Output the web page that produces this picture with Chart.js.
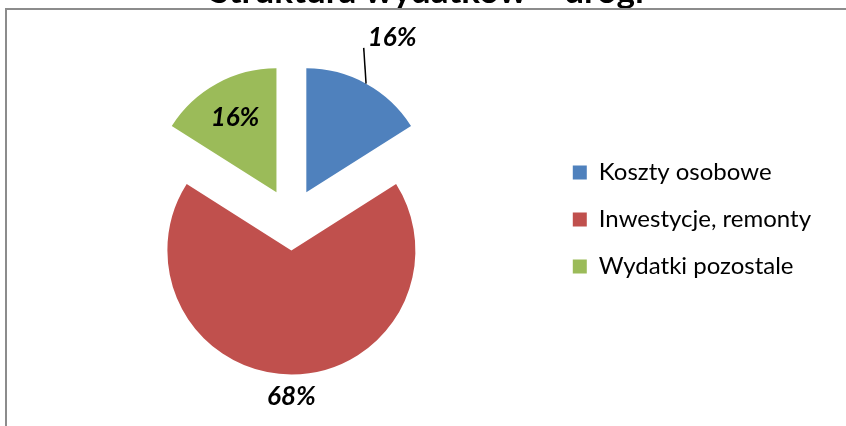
<!DOCTYPE html>
<html>
<head>
<meta charset="utf-8">
<script src="https://cdn.jsdelivr.net/npm/chart.js@4.4.1/dist/chart.umd.min.js"></script>
<style>
    body { margin: 0; background: #fff; overflow: hidden; }
    #wrap { position: relative; width: 846px; height: 426px; overflow: hidden; }
    #pieChart { position: absolute; left: 0; top: -29px; }
    #frame {
        position: absolute; left: 5px; top: 8px; right: -10px; bottom: -10px;
        border-left: 2px solid #8c8c8c; border-top: 2px solid #8c8c8c;
        pointer-events: none;
    }
</style>
</head>
<body>
<div id="wrap">
    <canvas id="pieChart" width="846" height="455"></canvas>
    <div id="frame"></div>
</div>
<script>
const chartTitle = 'Struktura wydatków – drogi';
const categories = ['Koszty osobowe', 'Inwestycje, remonty', 'Wydatki pozostale'];
const shares = [16, 68, 16];
const sliceColors = ['#4F81BD', '#C0504D', '#9BBB59'];

// pull every slice out of the centre by the same distance (Excel style explode)
const explodePlugin = {
    id: 'explode',
    afterDatasetsUpdate(chart, args, opts) {
        const meta = chart.getDatasetMeta(0);
        meta.data.forEach(arc => {
            const mid = (arc.startAngle + arc.endAngle) / 2;
            arc.x += Math.cos(mid) * opts.distance;
            arc.y += Math.sin(mid) * opts.distance;
        });
    }
};

// percentage labels, bold italic, one of them outside with a leader line
const pieLabelsPlugin = {
    id: 'pieLabels',
    afterDatasetsDraw(chart, args, opts) {
        const ctx = chart.ctx;
        const meta = chart.getDatasetMeta(0);
        ctx.save();
        ctx.font = opts.font;
        ctx.fillStyle = '#000';
        ctx.textAlign = 'center';
        ctx.textBaseline = 'alphabetic';
        meta.data.forEach((arc, i) => {
            const place = opts.placement[i];
            const mid = (arc.startAngle + arc.endAngle) / 2;
            const dist = arc.outerRadius + place.dist;
            const x = arc.x + Math.cos(mid) * dist;
            const y = arc.y + Math.sin(mid) * dist;
            const text = chart.data.datasets[0].data[i] + '%';
            const m = ctx.measureText(text);
            const h = m.actualBoundingBoxAscent;
            ctx.fillText(text, x, y + h / 2);
            if (place.leader) {
                ctx.beginPath();
                ctx.strokeStyle = '#000';
                ctx.lineWidth = 1.5;
                ctx.moveTo(arc.x + Math.cos(mid) * arc.outerRadius, arc.y + Math.sin(mid) * arc.outerRadius);
                ctx.lineTo(x - m.width / 2 - 4, y + h / 2 + 2);
                ctx.stroke();
            }
        });
        ctx.restore();
    }
};

const ctx = document.getElementById('pieChart').getContext('2d');
const pieChart = new Chart(ctx, {
    type: 'pie',
    data: {
        labels: categories,
        datasets: [{
            data: shares,
            backgroundColor: sliceColors,
            borderWidth: 0,
            radius: 124
        }]
    },
    options: {
        responsive: false,
        animation: false,
        events: [],
        layout: {
            padding: { left: 33, right: 25, top: 0, bottom: 0 }
        },
        plugins: {
            title: {
                display: true,
                text: chartTitle,
                color: '#000',
                font: { family: 'Lato', size: 35, weight: 'bold' },
                padding: 0
            },
            legend: {
                position: 'right',
                fullSize: false,
                labels: {
                    color: '#000',
                    font: { family: 'Lato', size: 24 },
                    boxWidth: 14,
                    boxHeight: 14,
                    padding: 23
                }
            },
            tooltip: { enabled: false },
            explode: { distance: 31 },
            pieLabels: {
                font: 'italic bold 26px Lato',
                placement: [
                    { dist: 54, leader: true },
                    { dist: 21 },
                    { dist: -38 }
                ]
            }
        }
    },
    plugins: [explodePlugin, pieLabelsPlugin]
});
</script>
</body>
</html>
